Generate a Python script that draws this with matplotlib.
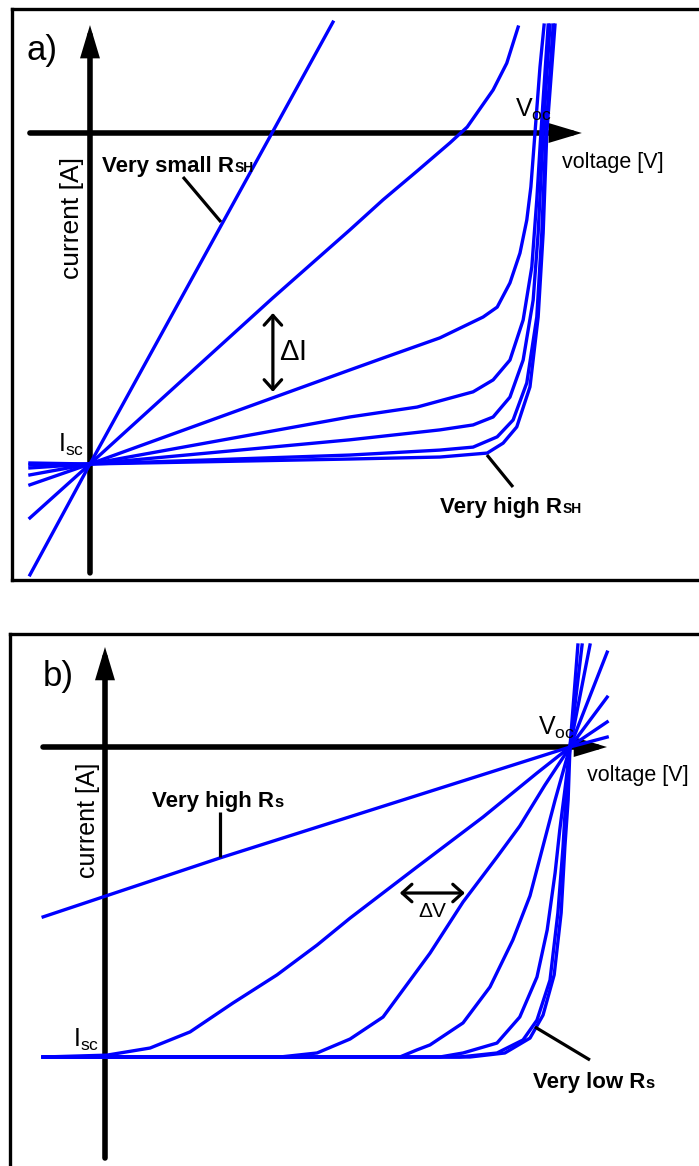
import matplotlib.pyplot as plt

FONT = ['Liberation Sans', 'DejaVu Sans']
BLUE = '#0000ff'

# --- a) shunt resistance sweep: voltage (Voc = 1) and current (Isc = -1) ---
rsh_v1 = [-0.132, 0.0, 0.534]
rsh_i1 = [-1.335, -1.0, 0.335]
rsh_v2 = [-0.132, 0.0, 0.402, 0.571, 0.644, 0.719, 0.791, 0.829, 0.886, 0.916, 0.941]
rsh_i2 = [-1.163, -1.0, -0.498, -0.293, -0.202, -0.115, -0.030, 0.018, 0.130, 0.211, 0.320]
rsh_v3 = [-0.132, 0.0, 0.571, 0.644, 0.769, 0.864, 0.895, 0.923, 0.945, 0.960, 0.969, 0.978, 0.989, 0.998]
rsh_i3 = [-1.063, -1.0, -0.716, -0.680, -0.619, -0.556, -0.526, -0.453, -0.363, -0.263, -0.163, 0.0, 0.199, 0.326]
rsh_v4 = [-0.132, 0.0, 0.571, 0.719, 0.842, 0.886, 0.923, 0.952, 0.971, 0.982, 0.991, 1.007]
rsh_i4 = [-1.033, -1.0, -0.858, -0.828, -0.782, -0.746, -0.686, -0.565, -0.405, -0.202, 0.0, 0.326]
rsh_v5 = [-0.132, 0.0, 0.571, 0.769, 0.842, 0.886, 0.923, 0.952, 0.974, 0.985, 0.996, 1.011]
rsh_i5 = [-1.012, -1.0, -0.927, -0.897, -0.882, -0.858, -0.798, -0.686, -0.505, -0.302, 0.0, 0.326]
rsh_v6 = [-0.132, 0.0, 0.571, 0.769, 0.842, 0.895, 0.930, 0.960, 0.982, 0.993, 1.002, 1.018]
rsh_i6 = [-1.003, -1.0, -0.973, -0.958, -0.949, -0.918, -0.867, -0.755, -0.556, -0.302, 0.0, 0.326]
rsh_v7 = [-0.132, 0.0, 0.571, 0.769, 0.873, 0.908, 0.938, 0.967, 0.985, 0.996, 1.004, 1.022]
rsh_i7 = [-0.997, -1.0, -0.985, -0.979, -0.967, -0.937, -0.888, -0.767, -0.556, -0.302, 0.0, 0.326]

# --- b) series resistance sweep ---
rs_v1 = [-0.133, 0.247, 1.0, 1.080]
rs_i1 = [-0.548, -0.358, 0.0, 0.032]
rs_v2 = [-0.133, 0.004, 0.097, 0.183, 0.275, 0.370, 0.456, 0.527, 0.671, 0.813, 0.929, 1.0, 1.080]
rs_i2 = [-1.0, -0.994, -0.971, -0.919, -0.826, -0.735, -0.639, -0.552, -0.387, -0.226, -0.084, 0.0, 0.081]
rs_v3 = [-0.133, 0.376, 0.456, 0.527, 0.598, 0.699, 0.770, 0.843, 0.892, 0.946, 1.0, 1.080]
rs_i3 = [-1.0, -1.0, -0.987, -0.942, -0.871, -0.665, -0.5, -0.355, -0.255, -0.123, 0.0, 0.161]
rs_v4 = [-0.133, 0.634, 0.671, 0.699, 0.770, 0.828, 0.877, 0.914, 0.935, 0.968, 1.0, 1.080]
rs_i4 = [-1.0, -1.0, -0.977, -0.961, -0.890, -0.774, -0.623, -0.480, -0.360, -0.171, 0.0, 0.306]
rs_v5 = [-0.133, 0.720, 0.770, 0.843, 0.892, 0.929, 0.951, 0.968, 0.978, 0.989, 1.0, 1.043]
rs_i5 = [-1.0, -1.0, -0.987, -0.955, -0.871, -0.742, -0.590, -0.406, -0.268, -0.139, 0.0, 0.329]
rs_v6 = [-0.133, 0.763, 0.843, 0.899, 0.929, 0.957, 0.974, 0.985, 0.991, 1.0, 1.026]
rs_i6 = [-1.0, -1.0, -0.987, -0.945, -0.881, -0.752, -0.535, -0.323, -0.171, 0.0, 0.329]
rs_v7 = [-0.133, 0.785, 0.860, 0.914, 0.942, 0.966, 0.981, 0.989, 0.996, 1.0, 1.017]
rs_i7 = [-1.0, -1.0, -0.987, -0.939, -0.865, -0.735, -0.535, -0.323, -0.171, 0.0, 0.329]


def axis_arrow(ax, start, tip):
    ax.annotate('', xy=tip, xytext=start, zorder=2,
                arrowprops=dict(arrowstyle='-|>,head_length=1.0,head_width=0.3',
                                mutation_scale=15, lw=4, color='black',
                                shrinkA=0, shrinkB=0, joinstyle='miter'))


def double_arrow(ax, start, end):
    ax.annotate('', xy=end, xytext=start,
                arrowprops=dict(arrowstyle='<->,head_length=0.5,head_width=0.45',
                                mutation_scale=14, lw=2.3, color='black',
                                shrinkA=0, shrinkB=0))


def r_label(ax, x, y, main, sub, size=16, subsize=10):
    # bold label with a small on-line suffix (R_SH, R_s)
    t = ax.text(x, y, main, fontsize=size, fontweight='bold', family=FONT,
                ha='left', va='baseline')
    ax.annotate(sub, xy=(1, 0), xycoords=t, xytext=(0.5, 0.21 * size),
                textcoords='offset points', fontsize=subsize, fontweight='bold',
                family=FONT, ha='left', va='baseline')


def pointer(ax, p0, p1):
    ax.plot([p0[0], p1[0]], [p0[1], p1[1]], color='black', lw=2.3,
            solid_capstyle='butt', zorder=4)


def frame(ax, sides):
    ax.set_xticks([])
    ax.set_yticks([])
    for side, sp in ax.spines.items():
        sp.set_visible(side in sides)
        sp.set_linewidth(2.4)


def plot_shunt(ax):
    ax.set_xlim(-0.1714, 1.3385)
    ax.set_ylim(-1.3505, 0.3746)
    frame(ax, ('left', 'top', 'bottom'))

    axis_arrow(ax, (0, -1.329), (0, 0.326))
    axis_arrow(ax, (-0.132, 0), (1.081, 0))

    curves = [(rsh_v1, rsh_i1), (rsh_v2, rsh_i2), (rsh_v3, rsh_i3), (rsh_v4, rsh_i4),
              (rsh_v5, rsh_i5), (rsh_v6, rsh_i6), (rsh_v7, rsh_i7)]
    for v, i in curves:
        ax.plot(v, i, color=BLUE, lw=2.4, solid_joinstyle='round', zorder=3)

    ax.text(-0.1385, 0.248, 'a)', fontsize=25, family=FONT, ha='left', va='center')
    ax.text(-0.0396, -0.257, 'current [A]', fontsize=19, family=FONT,
            rotation=90, ha='center', va='center')
    ax.text(1.0374, -0.0906, 'voltage [V]', fontsize=15.5, family=FONT, ha='left', va='center')
    ax.text(0.934, 0.048, r'$\mathregular{V_{oc}}$', fontsize=18, family=FONT,
            ha='left', va='baseline')
    ax.text(-0.0703, -0.964, r'$\mathregular{I_{sc}}$', fontsize=18, family=FONT,
            ha='left', va='baseline')

    double_arrow(ax, (0.402, -0.782), (0.402, -0.544))
    ax.text(0.444, -0.662, r'$\mathregular{\Delta I}$', fontsize=21, family=FONT,
            ha='center', va='center')

    r_label(ax, 0.0264, -0.118, 'Very small R', 'SH')
    pointer(ax, (0.2044, -0.1329), (0.2879, -0.2689))
    r_label(ax, 0.769, -1.148, 'Very high R', 'SH')
    pointer(ax, (0.8725, -0.9728), (0.9297, -1.0695))


def plot_series(ax):
    ax.set_xlim(-0.2043, 1.314)
    ax.set_ylim(-1.4268, 0.3645)
    frame(ax, ('left', 'top'))

    axis_arrow(ax, (0, -1.3258), (0, 0.3226))
    axis_arrow(ax, (-0.1333, 0), (1.0796, 0))

    curves = [(rs_v1, rs_i1), (rs_v2, rs_i2), (rs_v3, rs_i3), (rs_v4, rs_i4),
              (rs_v5, rs_i5), (rs_v6, rs_i6), (rs_v7, rs_i7)]
    for v, i in curves:
        ax.plot(v, i, color=BLUE, lw=2.4, solid_joinstyle='round', zorder=3)

    ax.text(-0.1333, 0.226, 'b)', fontsize=25, family=FONT, ha='left', va='center')
    ax.text(-0.0366, -0.2355, 'current [A]', fontsize=18, family=FONT,
            rotation=90, ha='center', va='center')
    ax.text(1.0366, -0.0935, 'voltage [V]', fontsize=15.5, family=FONT, ha='left', va='center')
    ax.text(0.931, 0.0387, r'$\mathregular{V_{oc}}$', fontsize=18, family=FONT,
            ha='left', va='baseline')
    ax.text(-0.0688, -0.968, r'$\mathregular{I_{sc}}$', fontsize=18, family=FONT,
            ha='left', va='baseline')

    double_arrow(ax, (0.634, -0.471), (0.774, -0.471))
    ax.text(0.705, -0.532, r'$\mathregular{\Delta V}$', fontsize=15, family=FONT,
            ha='center', va='center')

    r_label(ax, 0.101, -0.1935, 'Very high R', 's', subsize=12)
    pointer(ax, (0.2473, -0.2097), (0.2473, -0.3548))
    r_label(ax, 0.920, -1.100, 'Very low R', 's', subsize=12)
    pointer(ax, (0.9247, -0.9032), (1.043, -1.0097))


if __name__ == '__main__':
    plt.rcParams['mathtext.fontset'] = 'custom'
    plt.rcParams['mathtext.rm'] = 'Liberation Sans'
    fig = plt.figure(figsize=(6.99, 11.66), dpi=100)
    fig.patch.set_facecolor('white')

    ax_a = fig.add_axes([12 / 699, 1 - 580 / 1166, 687 / 699, 571 / 1166])
    plot_shunt(ax_a)

    ax_b = fig.add_axes([10 / 699, -0.02, 1.01, 0.47626])
    plot_series(ax_b)

    fig.savefig('out.png', dpi=100)
